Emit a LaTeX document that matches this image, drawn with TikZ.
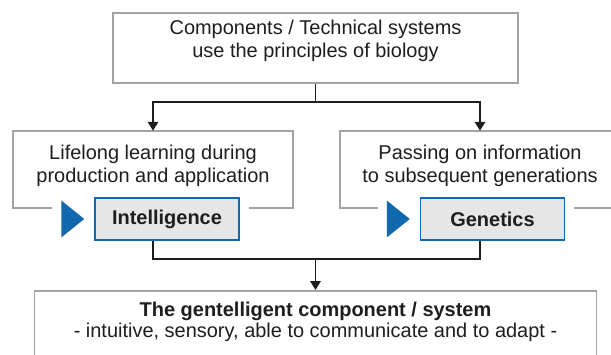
\documentclass[tikz,border=0pt]{standalone}
\usepackage{fontspec}
\setmainfont{Liberation Sans}
\usetikzlibrary{arrows.meta,positioning,shapes.geometric}
\definecolor{framegray}{HTML}{A3A3A3}
\definecolor{keyblue}{HTML}{1268AE}
\definecolor{keyfill}{HTML}{E6E6E6}
\definecolor{ink}{HTML}{1E1E1E}

\begin{document}
\begin{tikzpicture}[
  frame/.style   = {draw=framegray, line width=1.4pt, inner sep=0pt},
  hull/.style    = {minimum width=7cm, minimum height=1.925cm, inner sep=0pt},
  border/.style  = {draw=framegray, line width=1.4pt},
  caption/.style = {align=center, text=ink, inner sep=0pt,
                    font=\fontsize{14.2}{16.4}\selectfont},
  keybox/.style  = {draw=keyblue, fill=keyfill, line width=1.4pt, text=ink,
                    minimum width=3.6cm, minimum height=1.05cm, inner sep=0pt,
                    font=\fontsize{14.2}{16.4}\selectfont\bfseries},
  marker/.style  = {isosceles triangle, isosceles triangle stretches,
                    fill=keyblue, inner sep=0pt,
                    minimum width=0.925cm, minimum height=0.575cm},
  link/.style    = {draw=ink, line width=1.1pt},
  arrow/.style   = {link, -{Triangle[length=0.22cm,width=0.26cm]}},
]
  \useasboundingbox (0,0) rectangle (15.275,8.875);

  % top: the principle
  \node[frame, minimum width=10.125cm, minimum height=1.75cm] (top) at (7.8875,7.675) {};
  \node[caption] (toptext) at (7.8875,7.85) {Components / Technical systems\\use the principles of biology};

  % the two branches, each frame open where its key box sits
  \node[hull] (lifebox) at (3.825,4.6375) {};
  \node[caption] (lifetext) at (3.825,4.7375) {Lifelong learning during\\production and application};
  \node[keybox] (intel) at (4.175,3.4) {Intelligence};
  \node[marker, left=0.225cm of intel] (intelmark) {};
  \draw[border] ([xshift=-0.225cm]intelmark.west |- lifebox.south) -- (lifebox.south west)
    -- (lifebox.north west) -- (lifebox.north east) -- (lifebox.south east)
    -- ([xshift=0.225cm]intel.east |- lifebox.south);

  \node[hull] (genebox) at (12.0,4.6375) {};
  \node[caption] (genetext) at (12.0,4.7375) {Passing on information\\to subsequent generations};
  \node[keybox] (gene) at (12.3125,3.4) {Genetics};
  \node[marker, left=0.225cm of gene] (genemark) {};
  \draw[border] ([xshift=-0.225cm]genemark.west |- genebox.south) -- (genebox.south west)
    -- (genebox.north west) -- (genebox.north east) -- (genebox.south east)
    -- ([xshift=0.225cm]gene.east |- genebox.south);

  % bottom: the result
  \node[frame, minimum width=14.05cm, minimum height=2.0cm, anchor=north] (goal) at (7.8875,1.625) {};
  \node[caption, font=\fontsize{14.2}{14.6}\selectfont] (goaltext) at (7.8875,0.825)
    {\textbf{The gentelligent component / system}\\- intuitive, sensory, able to communicate and to adapt -};

  \coordinate (split) at (7.8875,6.325);
  \coordinate (merge) at (7.8875,2.4);
  \draw[link] (top.south) -- (split);
  \draw[arrow] (split) -| (lifebox.north);
  \draw[arrow] (split) -| (genebox.north);
  \draw[link] (lifebox.center |- intel.south) |- (merge);
  \draw[link] (genebox.center |- gene.south) |- (merge);
  \draw[arrow] (merge) -- (goal.north);
\end{tikzpicture}
\end{document}
